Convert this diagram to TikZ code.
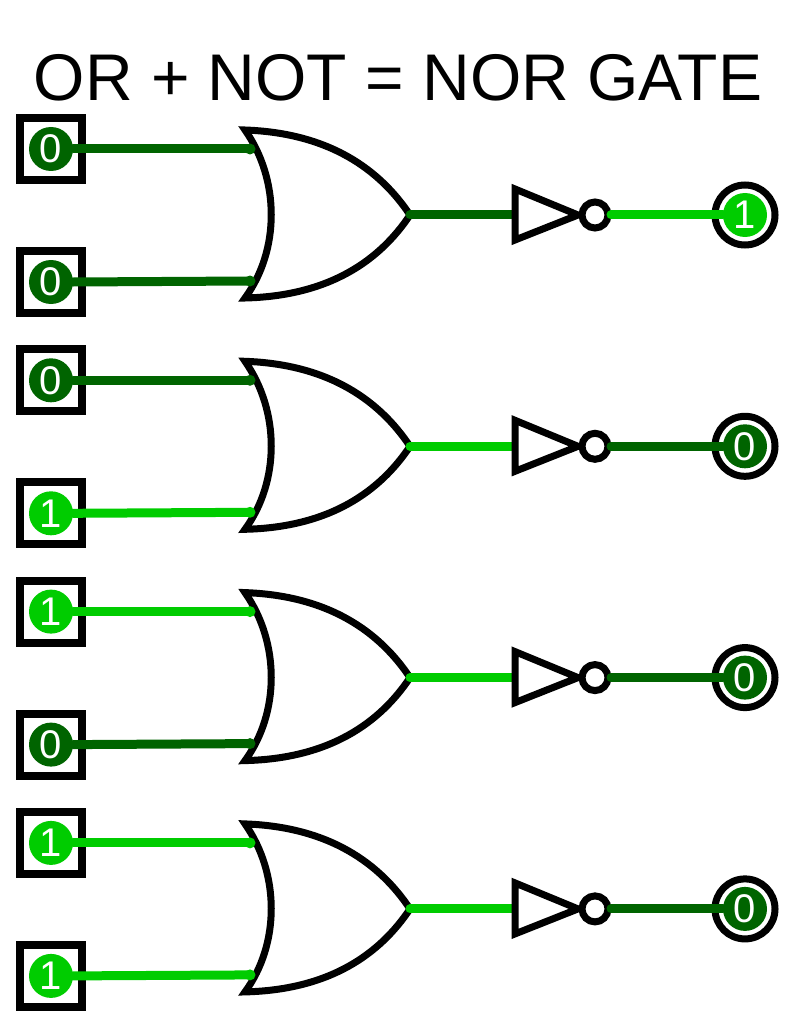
\documentclass[tikz,border=0pt]{standalone}
\usepackage{fontspec}
\setmainfont{Liberation Sans}
\definecolor{dg}{RGB}{0,100,0}
\definecolor{lg}{RGB}{0,204,0}
\begin{document}
\begin{tikzpicture}[x=1pt,y=-1pt,
  gate/.style={draw=black,line width=7pt,fill=white,line join=miter},
  wire/.style={line width=9pt,line cap=round},
  inbox/.style={draw=black,line width=8pt,minimum size=62pt,inner sep=0pt},
  val/.style={circle,inner sep=0pt,minimum size=44pt,text=white,font=\fontsize{40}{40}\selectfont},
  ring/.style={circle,draw=black,line width=7pt,fill=white,minimum size=60pt,inner sep=0pt}]
\useasboundingbox (0,0) rectangle (799,1024);
\node (title) at (398,78) {\fontsize{66}{66}\selectfont OR + NOT = NOR GATE};
\foreach \r/\a/\b/\o/\ca/\cb/\cm/\co in {0/0/0/1/dg/dg/dg/lg, 1/0/1/0/dg/lg/lg/dg, 2/1/0/0/lg/dg/lg/dg, 3/1/1/0/lg/lg/lg/dg}{
  \begin{scope}[yshift={-\r*231.3pt}]
  \node[inbox] (ia\r) at (51,149) {};
  \node[val,fill=\ca] (va\r) at (51,149) {\a};
  \node[inbox] (ib\r) at (51,282) {};
  \node[val,fill=\cb] (vb\r) at (51,282) {\b};
  \coordinate (ga\r) at (250,149);
  \coordinate (gb\r) at (250,281);
  \coordinate (go\r) at (410,215);
  \coordinate (ni\r) at (515,215);
  \coordinate (no\r) at (611,215);
  \draw[wire,\ca] (va\r.east) -- (ga\r);
  \draw[wire,\cb] (vb\r.east) -- (gb\r);
  \draw[gate] (245,130) .. controls (330,133) and (380,170) .. (410,215)
     .. controls (380,260) and (330,296) .. (245,298)
     .. controls (280,250) and (280,180) .. cycle;
  \fill[\ca] (ga\r) circle (5.5pt);
  \fill[\cb] (gb\r) circle (5.5pt);
  \draw[wire,\cm] (go\r) -- (ni\r);
  \draw[gate] (515,189) -- (578,215) -- (515,240) -- cycle;
  \draw[gate] (595,215) circle (13pt);
  \node[ring] (out\r) at (745,215) {};
  \node[val,fill=\co] (vo\r) at (745,215) {\o};
  \draw[wire,\co] (no\r) -- (vo\r.west);
  \end{scope}
}
\end{tikzpicture}
\end{document}
